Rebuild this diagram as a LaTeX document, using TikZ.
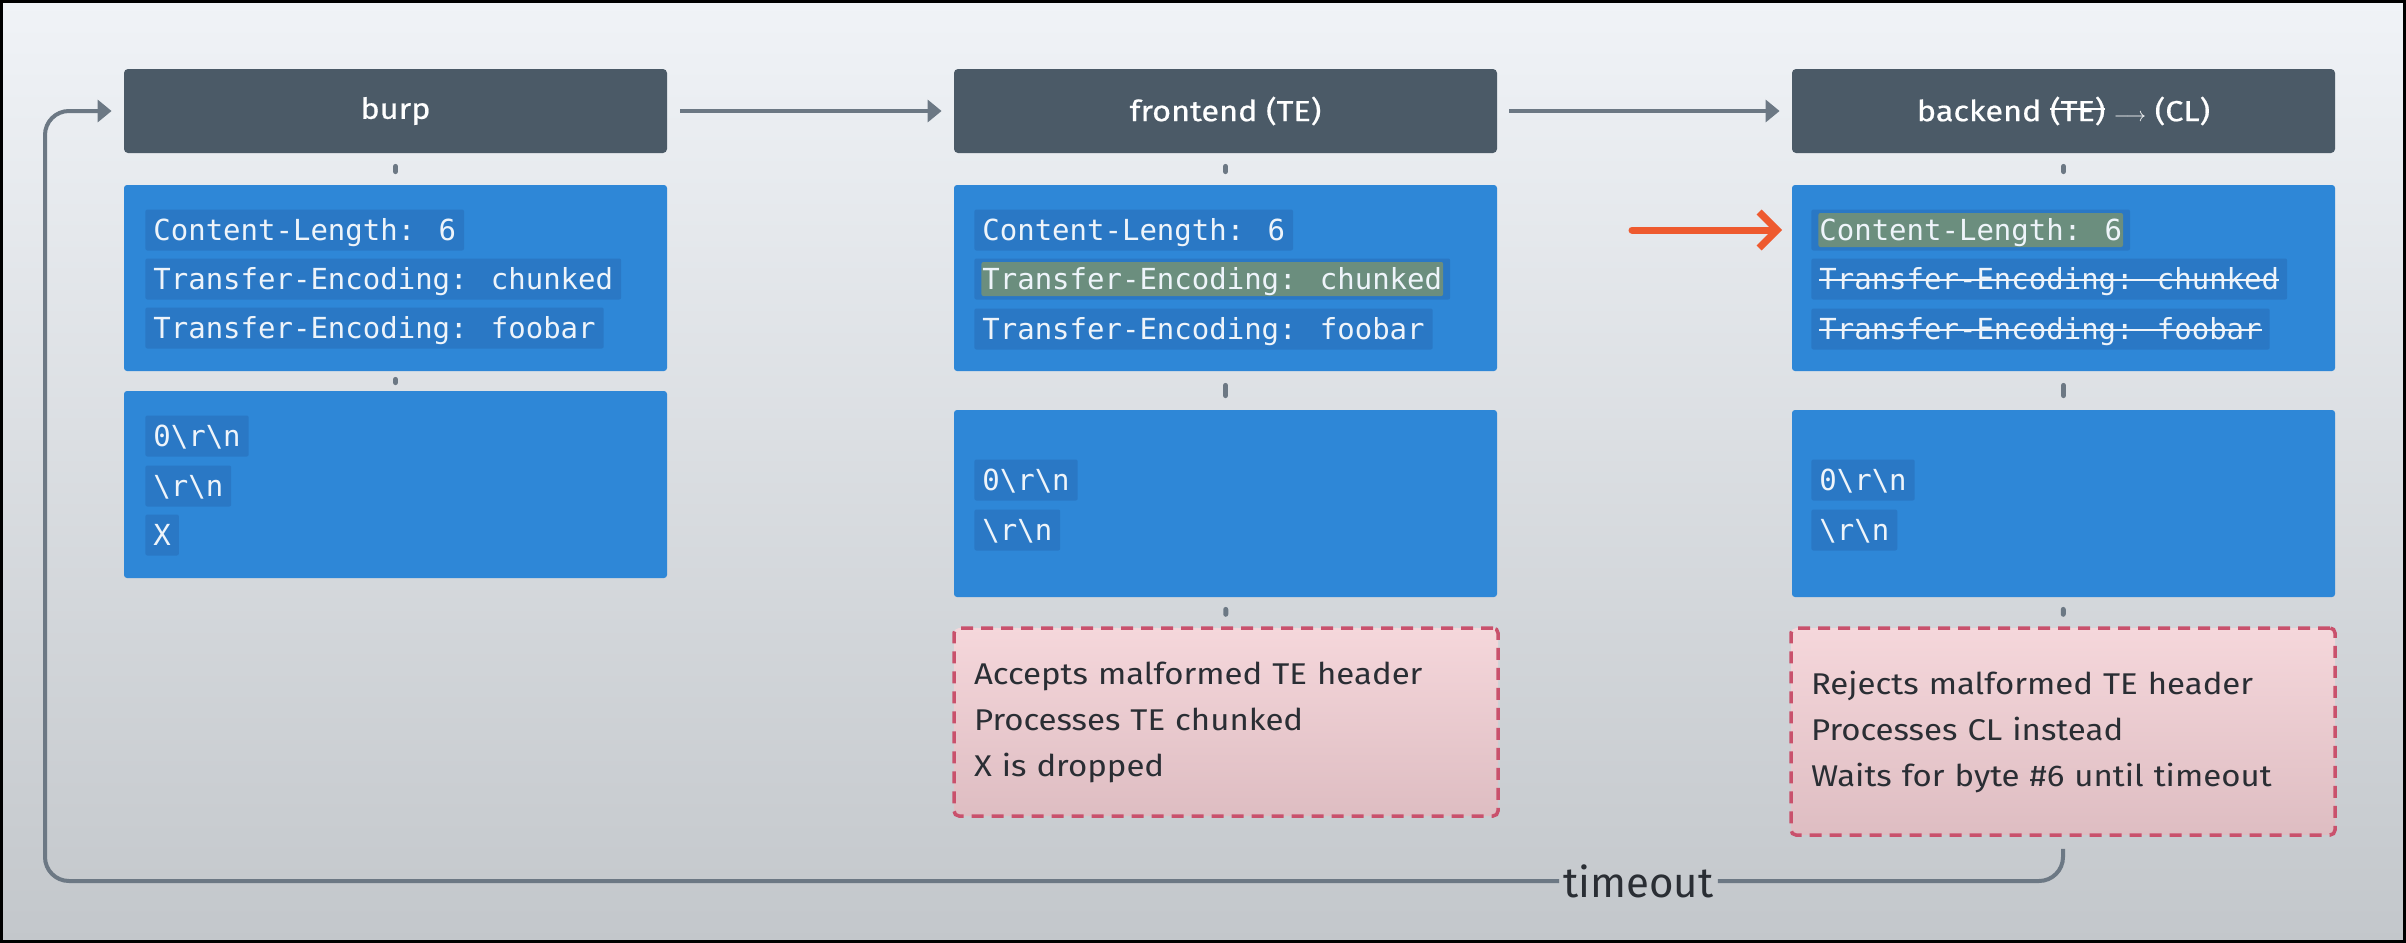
\documentclass[tikz,border=0pt]{standalone}
\usepackage{fontspec}
\setmainfont{Fira Sans}
\newfontfamily\widesans[FakeStretch=1.1]{Fira Sans}
\newfontfamily\hdrsans[FakeStretch=1.12,FakeBold=0.6]{Fira Sans}
\newfontfamily\codefont{DejaVu Sans Mono}
\usetikzlibrary{arrows.meta}
\definecolor{bgtop}{HTML}{F0F3F7}
\definecolor{bgbot}{HTML}{C3C7CB}
\definecolor{hdr}{HTML}{4B5A67}
\definecolor{blu}{HTML}{2E87D7}
\definecolor{codebg}{HTML}{2A78C5}
\definecolor{hlg}{HTML}{6B8E7E}
\definecolor{codefg}{HTML}{EEF4FA}
\definecolor{pinktop}{HTML}{F5D7DB}
\definecolor{pinkbot}{HTML}{DEBDC2}
\definecolor{pinkln}{HTML}{C9516C}
\definecolor{lncol}{HTML}{6C7884}
\definecolor{orng}{HTML}{EE5A2F}
\definecolor{txtdark}{HTML}{2A2E34}
\newcommand\strikeTE[1]{\setbox0\hbox{#1}\rlap{\rule[0.38em]{\wd0}{0.9pt}}\box0\relax}
\tikzset{
  hdrbox/.style={fill=hdr, rounded corners=2pt, minimum width=271.5pt, minimum height=42pt,
    text=white, font=\hdrsans\fontsize{14.5}{17}\selectfont, inner sep=0pt},
  bluebox/.style={fill=blu, rounded corners=1.5pt, minimum width=271.5pt, inner sep=0pt},
  codeln/.style={anchor=west, fill=codebg, text=codefg, font=\codefont\fontsize{14.5}{17}\selectfont,
    inner xsep=4pt, inner ysep=0pt, minimum height=20.5pt, text height=12.5pt, text depth=2.5pt,
    rounded corners=1pt},
  hl/.style={path picture={\fill[hlg] ([xshift=3.5pt,yshift=1.75pt]path picture bounding box.south west)
    rectangle ([xshift=-3.5pt,yshift=-1.75pt]path picture bounding box.north east);}},
  struck/.style={path picture={\draw[codefg, line width=1pt] ([xshift=4pt,yshift=-0.5pt]path picture bounding box.west)
    -- ([xshift=-4pt,yshift=-0.5pt]path picture bounding box.east);}},
  pinkbox/.style={draw=pinkln, line width=1.75pt, dash pattern=on 6pt off 4pt,
    top color=pinktop, bottom color=pinkbot, rounded corners=2.5pt,
    minimum width=272pt, text width=252pt, align=left, inner xsep=10pt, inner ysep=0pt,
    text=txtdark, font=\widesans\fontsize{15}{23}\selectfont},
  tick/.style={draw=lncol, line width=2.5pt, line cap=round},
  link/.style={draw=lncol, line width=2pt},
  gtip/.style={-{Triangle[length=7pt,width=11pt]}},
}
\begin{document}
\begin{tikzpicture}[x=0.5pt,y=-0.5pt]
\useasboundingbox (0,0) rectangle (2406,943);
\shade[top color=bgtop, bottom color=bgbot] (0,0) rectangle (2406,943);
\draw[black, line width=1.5pt] (1.5,1.5) rectangle (2404.5,941.5);

% headers
\node[hdrbox] (h1) at (395.5,111) {burp};
\node[hdrbox] (h2) at (1225.5,111) {frontend (TE)};
\node[hdrbox] (h3) at (2063.5,111) {backend \strikeTE{(TE)} ${\scriptstyle\longrightarrow}$ (CL)};

% blue boxes
\node[bluebox, minimum height=93pt] (b11) at (395.5,278) {};
\node[bluebox, minimum height=93.5pt] (b12) at (395.5,484.5) {};
\node[bluebox, minimum height=93pt] (b21) at (1225.5,278) {};
\node[bluebox, minimum height=93.5pt] (b22) at (1225.5,503.5) {};
\node[bluebox, minimum height=93pt] (b31) at (2063.5,278) {};
\node[bluebox, minimum height=93.5pt] (b32) at (2063.5,503.5) {};

% code lines column 1
\node[codeln] (c11) at (145,230) {Content-Length: 6};
\node[codeln] (c12) at (145,279) {Transfer-Encoding: chunked};
\node[codeln] (c13) at (145,328) {Transfer-Encoding: foobar};
\node[codeln] (d11) at (145,436) {0\textbackslash r\textbackslash n};
\node[codeln] (d12) at (145,486) {\textbackslash r\textbackslash n};
\node[codeln] (d13) at (145,535) {X};

% code lines column 2
\node[codeln] (c21) at (974,230) {Content-Length: 6};
\node[codeln, hl] (c22) at (974,279) {Transfer-Encoding: chunked};
\node[codeln] (c23) at (974,329) {Transfer-Encoding: foobar};
\node[codeln] (d21) at (974,480) {0\textbackslash r\textbackslash n};
\node[codeln] (d22) at (974,530) {\textbackslash r\textbackslash n};

% code lines column 3
\node[codeln, hl] (c31) at (1811,230) {Content-Length: 6};
\node[codeln, struck] (c32) at (1811,279) {Transfer-Encoding: chunked};
\node[codeln, struck] (c33) at (1811,329) {Transfer-Encoding: foobar};
\node[codeln] (d31) at (1811,480) {0\textbackslash r\textbackslash n};
\node[codeln] (d32) at (1811,530) {\textbackslash r\textbackslash n};

% pink notes
\node[pinkbox, minimum height=94pt] (p2) at (1226,722) {Accepts malformed TE header\\Processes TE chunked\\X is dropped};
\node[pinkbox, minimum height=103.5pt] (p3) at (2063,731.5) {Rejects malformed TE header\\Processes CL instead\\Waits for byte \#6 until timeout};

% ticks
\draw[tick, shorten <=6.5pt, shorten >=6.5pt] (h1) -- (b11);
\draw[tick, shorten <=4pt, shorten >=4pt] (b11) -- (b12);
\draw[tick, shorten <=6.5pt, shorten >=6.5pt] (h2) -- (b21);
\draw[tick, shorten <=7pt, shorten >=7pt] (b21) -- (b22);
\draw[tick, shorten <=6pt, shorten >=6pt] (b22) -- (p2);
\draw[tick, shorten <=6.5pt, shorten >=6.5pt] (h3) -- (b31);
\draw[tick, shorten <=7pt, shorten >=7pt] (b31) -- (b32);
\draw[tick, shorten <=6pt, shorten >=6pt] (b32) -- (p3);

% header arrows
\draw[link, gtip, shorten <=6.5pt, shorten >=6pt] (h1) -- (h2);
\draw[link, gtip, shorten <=6pt, shorten >=6pt] (h2) -- (h3);

% orange arrow
\coordinate (oa) at (1632,230);
\draw[orng, line width=3.5pt, line cap=round, -{Straight Barb[length=9pt,width=18pt]}, shorten >=14.5pt] (oa) -- (c31.west);

% timeout loop
\node[text=txtdark, font=\fontsize{21}{24}\selectfont, inner xsep=2pt, inner ysep=0pt] (to) at (1638.5,881) {timeout};
\coordinate (lp) at (45,881);
\draw[link, rounded corners=12pt, shorten <=6pt] (p3.south) |- (to.east);
\draw[link, gtip, rounded corners=12pt, shorten >=6pt] (to.west) -- (lp) |- (h1.west);
\end{tikzpicture}
\end{document}
